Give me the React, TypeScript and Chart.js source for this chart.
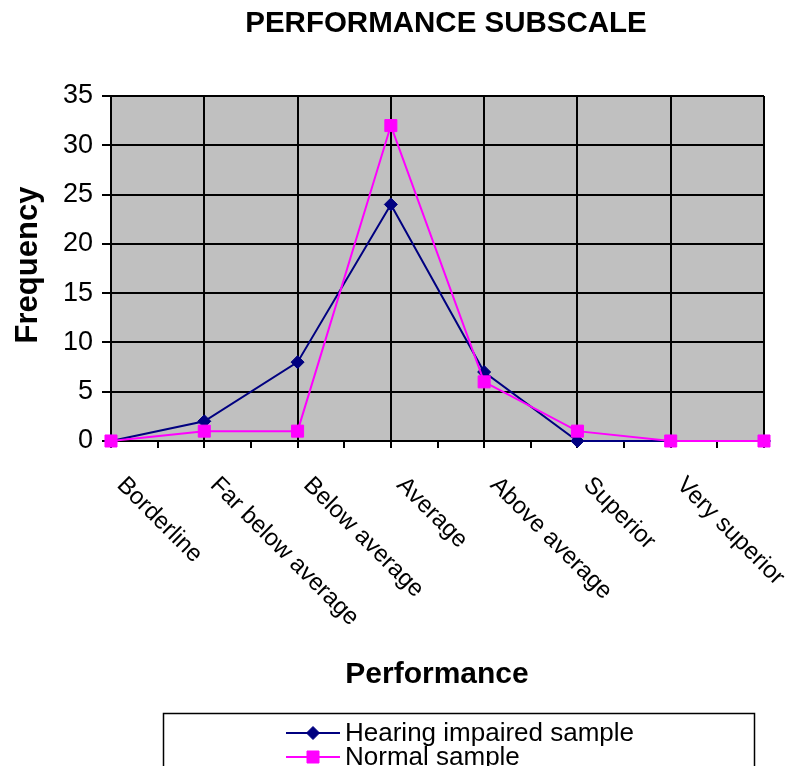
import React, { useEffect, useRef } from 'react';
import { Chart, registerables } from 'chart.js';

Chart.register(...registerables);

const TITLE = 'PERFORMANCE SUBSCALE';
const X_TITLE = 'Performance';
const Y_TITLE = 'Frequency';
const categories = [
  'Borderline',
  'Far below average',
  'Below average',
  'Average',
  'Above average',
  'Superior',
  'Very superior',
  '',
];
const hearingImpaired = [0, 2, 8, 24, 7, 0, 0, 0];
const normalSample = [0, 1, 1, 32, 6, 1, 0, 0];
const seriesNames = ['Hearing impaired sample', 'Normal sample'];
const yMin = 0;
const yMax = 35;
const yStep = 5;

const FONT = '"Liberation Sans", Arial, Helvetica, sans-serif';
const NAVY = '#000080';
const MAGENTA = '#FF00FF';

function drawMarker(ctx: CanvasRenderingContext2D, style: string, x: number, y: number, color: string) {
  ctx.save();
  ctx.fillStyle = color;
  ctx.strokeStyle = color;
  ctx.lineWidth = 1;
  ctx.beginPath();
  if (style === 'rectRot') {
    const r = 6.5;
    ctx.moveTo(x, y - r);
    ctx.lineTo(x + r, y);
    ctx.lineTo(x, y + r);
    ctx.lineTo(x - r, y);
    ctx.closePath();
  } else {
    const h = 6;
    ctx.rect(x - h, y - h, 2 * h, 2 * h);
  }
  ctx.fill();
  ctx.stroke();
  ctx.restore();
}

const decorPlugin = {
  id: 'decor',
  beforeDraw(chart: any) {
    const { ctx, chartArea: a } = chart;
    ctx.save();
    ctx.fillStyle = '#ffffff';
    ctx.fillRect(0, 0, chart.width, chart.height);
    ctx.fillStyle = '#C0C0C0';
    ctx.fillRect(a.left, a.top, a.right - a.left, a.bottom - a.top);
    ctx.restore();
  },
  afterDraw(chart: any) {
    const { ctx } = chart;
    const xs = chart.scales.x;
    ctx.save();
    ctx.fillStyle = '#000';
    ctx.textBaseline = 'alphabetic';

    // title
    ctx.font = `bold 29.5px ${FONT}`;
    ctx.textAlign = 'center';
    ctx.fillText(TITLE, 446, 32);

    // category labels (rotated down-right)
    ctx.font = `24px ${FONT}`;
    ctx.textAlign = 'left';
    categories.forEach((c, i) => {
      if (!c) return;
      const px = xs.getPixelForValue(i);
      ctx.save();
      ctx.translate(px + 5, 486);
      ctx.rotate(Math.PI / 4);
      ctx.fillText(c, 0, 0);
      ctx.restore();
    });

    // axis titles
    ctx.font = `bold 30px ${FONT}`;
    ctx.textAlign = 'center';
    ctx.fillText(X_TITLE, 437, 683);
    ctx.save();
    ctx.font = `bold 31px ${FONT}`;
    ctx.translate(37, 265);
    ctx.rotate(-Math.PI / 2);
    ctx.fillText(Y_TITLE, 0, 0);
    ctx.restore();

    // legend
    ctx.fillStyle = '#fff';
    ctx.fillRect(163, 713, 592, 80);
    ctx.strokeStyle = '#000';
    ctx.lineWidth = 1.5;
    ctx.strokeRect(163.5, 713.5, 591, 80);
    const items = [
      { name: seriesNames[0], color: NAVY, style: 'rectRot', y: 733 },
      { name: seriesNames[1], color: MAGENTA, style: 'rect', y: 757 },
    ];
    ctx.font = `26px ${FONT}`;
    ctx.textAlign = 'left';
    items.forEach((it) => {
      ctx.strokeStyle = it.color;
      ctx.lineWidth = 2;
      ctx.beginPath();
      ctx.moveTo(286, it.y);
      ctx.lineTo(340, it.y);
      ctx.stroke();
      drawMarker(ctx, it.style, 313, it.y, it.color);
      ctx.fillStyle = '#000';
      ctx.fillText(it.name, 345, it.y + 8);
    });
    ctx.restore();
  },
};

export default function App() {
  const ref = useRef<HTMLCanvasElement | null>(null);

  useEffect(() => {
    if (!ref.current) return;
    const chart = new Chart(ref.current, {
      type: 'line',
      data: {
        datasets: [
          {
            label: seriesNames[0],
            data: hearingImpaired.map((v, i) => ({ x: i, y: v })),
            borderColor: NAVY,
            backgroundColor: NAVY,
            borderWidth: 2,
            pointStyle: 'rectRot',
            pointRadius: 6.5,
            pointBorderWidth: 1,
            tension: 0,
            clip: false as any,
            order: 1,
          },
          {
            label: seriesNames[1],
            data: normalSample.map((v, i) => ({ x: i, y: v })),
            borderColor: MAGENTA,
            backgroundColor: MAGENTA,
            borderWidth: 2,
            pointStyle: 'rect',
            pointRadius: 8.5,
            pointBorderWidth: 1,
            tension: 0,
            clip: false as any,
            order: 0,
          },
        ],
      },
      options: {
        responsive: false,
        animation: false,
        devicePixelRatio: 1,
        layout: { padding: { top: 96, right: 25, bottom: 0, left: 0 } },
        plugins: {
          legend: { display: false },
          title: { display: false },
          tooltip: { enabled: false },
        },
        scales: {
          x: {
            type: 'linear',
            min: 0,
            max: categories.length - 1,
            ticks: { display: false, stepSize: 0.5, autoSkip: false },
            grid: {
              color: (c: any) => (c.tick && Number.isInteger(c.tick.value) ? '#000' : 'rgba(0,0,0,0)'),
              tickColor: '#000',
              lineWidth: 2,
              tickLength: 7,
              drawTicks: true,
            },
            border: { display: true, color: '#000', width: 2 },
            afterFit: (s: any) => {
              s.height = 325;
            },
          },
          y: {
            type: 'linear',
            min: yMin,
            max: yMax,
            ticks: {
              stepSize: yStep,
              color: '#000',
              font: { family: FONT, size: 27 },
              padding: 9,
            },
            grid: {
              color: '#000',
              lineWidth: 2,
              tickLength: 9,
              drawTicks: true,
            },
            border: { display: true, color: '#000', width: 2 },
            afterFit: (s: any) => {
              s.width = 111;
            },
          },
        },
      },
      plugins: [decorPlugin],
    });
    return () => chart.destroy();
  }, []);

  return (
    <div style={{ position: 'fixed', left: 0, top: 0, width: 789, height: 766, background: '#fff' }}>
      <canvas ref={ref} width={789} height={766} style={{ display: 'block' }} />
    </div>
  );
}
